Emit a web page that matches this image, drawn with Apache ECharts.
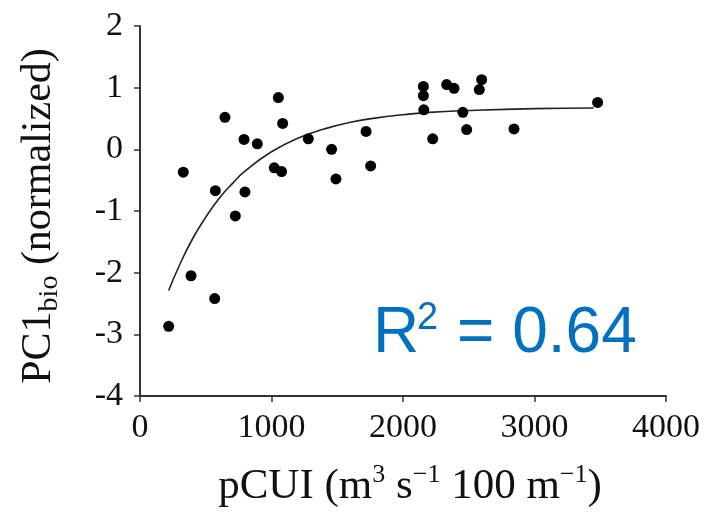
<!DOCTYPE html>
<html>
<head>
<meta charset="utf-8">
<script src="https://cdn.jsdelivr.net/npm/echarts@6/dist/echarts.min.js"></script>
<style>html,body{margin:0;padding:0;background:#fff}#c{width:722px;height:513px}</style>
</head>
<body>
<div id="c"></div>
<script>
// Observed points: pCUI (x) and PC1bio (y)
const pcui = [218, 329, 388, 568, 573, 646, 725, 791, 798, 892, 1021, 1052, 1077, 1085, 1280, 1457, 1490, 1719, 1754, 2155, 2155, 2158, 2226, 2332, 2388, 2455, 2484, 2580, 2598, 2844, 3480];
const pc1 = [-2.87, -0.37, -2.05, -2.42, -0.67, 0.52, -1.08, 0.16, -0.69, 0.09, -0.30, 0.84, -0.36, 0.42, 0.17, 0.00, -0.48, 0.29, -0.27, 1.02, 0.87, 0.64, 0.17, 1.05, 0.99, 0.60, 0.32, 0.97, 1.13, 0.33, 0.76];
// Fitted curve
const fitX = [218, 300, 400, 500, 600, 700, 800, 1000, 1200, 1400, 1600, 1800, 2000, 2200, 2500, 3000, 3450];
const fitY = [-2.29, -1.88, -1.45, -1.10, -0.80, -0.56, -0.35, -0.04, 0.18, 0.33, 0.44, 0.51, 0.56, 0.60, 0.63, 0.66, 0.67];
const xTicks = [0, 1000, 2000, 3000, 4000];
const yTicks = [-4, -3, -2, -1, 0, 1, 2];

const serif = 'Liberation Serif, Times New Roman, serif';
const sans = 'Liberation Sans, Arial, sans-serif';
const chart = echarts.init(document.getElementById('c'));
chart.setOption({
  animation: false,
  backgroundColor: '#fff',
  grid: {left: 140, right: 56, top: 26, bottom: 117},
  xAxis: {
    type: 'value', min: xTicks[0], max: xTicks[xTicks.length-1], interval: 1000,
    splitLine: {show: false},
    axisLine: {onZero: false, lineStyle: {color: '#333', width: 2}},
    axisTick: {length: 6, lineStyle: {color: '#333', width: 1.5}},
    axisLabel: {fontFamily: serif, fontSize: 34, color: '#111', margin: 15, formatter: v => String(v)},
    name: '{a|pCUI (m}{s|3}{a| s}{s|−1}{a| 100 m}{s|−1}{a|)}',
    nameLocation: 'middle', nameGap: 66,
    nameTextStyle: {
      padding: [0, 0, 0, 14],
      rich: {
        a: {fontFamily: serif, fontSize: 43, color: '#111', lineHeight: 46, verticalAlign: 'bottom'},
        s: {fontFamily: serif, fontSize: 26, color: '#111', lineHeight: 30, verticalAlign: 'top'}
      }
    }
  },
  yAxis: {
    type: 'value', min: yTicks[0], max: yTicks[yTicks.length-1], interval: 1,
    splitLine: {show: false},
    axisLine: {show: true, onZero: false, lineStyle: {color: '#333', width: 2}},
    axisTick: {show: true, length: 6, lineStyle: {color: '#333', width: 1.5}},
    axisLabel: {fontFamily: serif, fontSize: 34, color: '#111', margin: 17},
    name: '{a|PC1}{s|bio}{a| (normalized)}',
    nameLocation: 'middle', nameGap: 76, nameRotate: 90,
    nameTextStyle: {
      padding: [0, 10, 0, 0],
      rich: {
        a: {fontFamily: serif, fontSize: 42, color: '#111', lineHeight: 46, verticalAlign: 'top'},
        s: {fontFamily: serif, fontSize: 28, color: '#111', lineHeight: 30, verticalAlign: 'bottom'}
      }
    }
  },
  series: [
    {
      type: 'line', data: fitX.map((x, i) => [x, fitY[i]]), smooth: true,
      showSymbol: false, lineStyle: {color: '#222', width: 1.6}, z: 2
    },
    {
      type: 'scatter', data: pcui.map((x, i) => [x, pc1[i]]),
      symbolSize: 11, itemStyle: {color: '#000', opacity: 1}, z: 3
    }
  ],
  graphic: [
    {type: 'text', left: 373, top: 302, style: {text: 'R', font: '64px ' + sans, fill: '#0070C0'}},
    {type: 'text', left: 417, top: 300, style: {text: '2', font: '38px ' + sans, fill: '#0070C0'}},
    {type: 'text', left: 457, top: 302, style: {text: '= 0.64', font: '64px ' + sans, fill: '#0070C0'}}
  ]
});
</script>
</body>
</html>
